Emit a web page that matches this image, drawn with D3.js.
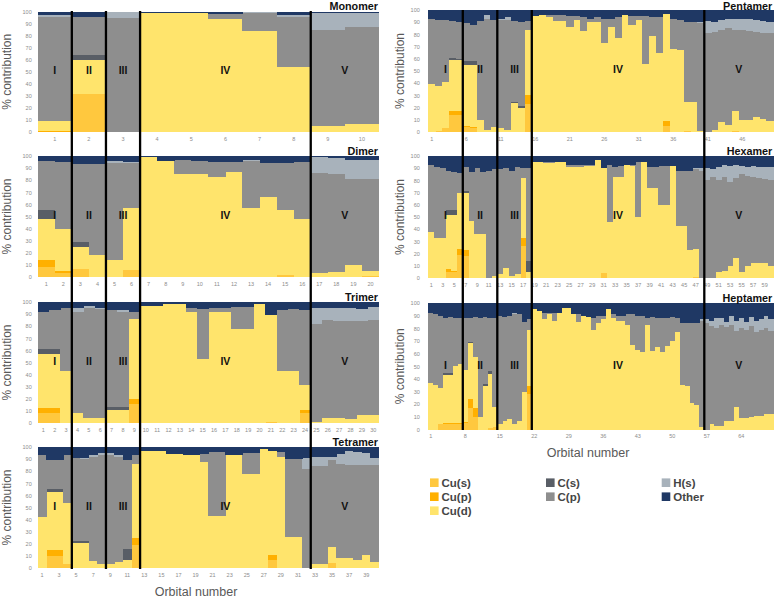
<!DOCTYPE html>
<html>
<head>
<meta charset="utf-8">
<script src="https://cdn.jsdelivr.net/npm/d3@7"></script>
<style>
  body { margin: 0; background: #fff; }
  svg { display: block; font-family: "Open Sans", "Liberation Sans", sans-serif; }
  .tick text { fill: #8c8c8c; font-size: 5.5px; }
</style>
</head>
<body>
<svg id="chart" width="774" height="599"></svg>
<script>
// components, bottom to top of each stack
var components = ["Cu(s)", "Cu(p)", "Cu(d)", "C(s)", "C(p)", "H(s)", "Other"];
var colors = ["#ffc83e", "#ffb000", "#ffe46c", "#595e66", "#8e8e8e", "#a8b2bb", "#1f3864"];
var regionNames = ["I", "II", "III", "IV", "V"];

// % contribution per orbital: [Cu(s), Cu(p), Cu(d), C(s), C(p), H(s), Other]
var monomer = [
  [0,1,8,0,87,1,3],[32,0,28,4,32,0,4],[0,0,0,0,95,5,0],[0,0,99,0,0,0,1],[0,0,99,0,0,0,1],
  [0,0,94,0,4,0,2],[0,0,84,0,15,1,0],[0,0,54,0,42,1,3],[0,0,5,0,80,14,1],[0,0,7,0,80,12,1]
];
var dimer = [
  [8,6,34,7,41,0,4],[3,2,35,0,55,0,5],[7,0,18,4,64,0,7],[0,0,18,0,75,0,7],[0,0,14,0,80,2,4],
  [6,0,51,0,37,1,5],[0,0,99,0,0,0,1],[0,0,96,0,0,0,4],[0,0,85,0,12,0,3],[0,0,85,0,11,0,4],
  [0,0,83,0,12,0,5],[0,0,87,0,8,0,5],[0,0,57,0,39,1,3],[0,0,66,0,28,0,6],[2,0,53,0,39,0,6],
  [0,0,48,0,47,0,5],[0,0,3,0,83,13,1],[0,0,4,0,81,13,2],[0,0,10,0,71,16,3],[1,0,4,0,76,16,3]
];
var trimer = [
  [8,4,45,4,31,0,8],[8,4,45,4,32,0,7],[0,0,43,0,52,0,5],[0,0,8,0,84,3,5],[0,0,4,0,91,2,3],
  [0,0,4,0,90,1,5],[0,0,11,2,80,0,7],[0,0,11,2,79,1,7],[16,4,66,0,6,0,8],[0,0,97,0,0,0,3],
  [0,0,97,0,0,0,3],[0,0,98,0,0,0,2],[0,0,98,0,0,0,2],[0,0,92,0,3,0,5],[0,0,53,0,41,0,6],
  [0,0,92,0,3,0,5],[0,0,92,0,3,0,5],[0,0,78,0,18,0,4],[0,0,78,0,18,0,4],[0,0,98,0,0,0,2],
  [1,0,88,0,0,0,11],[0,0,43,0,50,0,7],[0,0,43,0,51,0,6],[8,3,20,0,62,0,7],[0,0,1,0,81,13,5],
  [0,0,4,0,81,10,5],[0,0,4,0,80,11,5],[0,0,3,0,81,11,5],[0,0,7,0,77,10,6],[0,0,7,0,78,11,4]
];
var tetramer = [
  [0,0,42,0,51,0,7],[10,5,48,2,24,0,11],[10,5,48,2,24,0,11],[3,0,51,0,39,0,7],[0,0,21,1,69,0,9],
  [0,0,21,1,68,1,9],[0,0,6,0,86,1,7],[0,0,3,0,90,2,5],[0,0,3,0,90,2,5],[0,0,5,0,87,1,7],
  [0,0,7,9,73,0,11],[19,6,61,0,7,0,7],[0,0,97,0,0,0,3],[0,0,97,0,0,0,3],[0,0,97,0,0,0,3],
  [0,0,94,0,0,0,6],[0,0,94,0,0,0,6],[0,0,93,0,0,0,7],[0,0,93,0,0,0,7],[0,0,88,0,6,0,6],
  [0,0,43,0,53,0,4],[0,0,43,0,53,0,4],[0,0,93,0,0,0,7],[0,0,93,0,0,0,7],[0,0,78,0,17,0,5],
  [0,0,78,0,17,0,5],[0,0,98,0,0,0,2],[7,4,86,0,0,0,3],[0,0,92,0,4,0,4],[0,0,26,0,64,0,10],
  [0,0,26,0,64,0,10],[0,0,0,0,82,9,9],[0,0,3,0,81,8,8],[0,0,3,0,81,8,8],[4,0,13,0,72,3,8],
  [0,0,8,0,78,8,6],[0,0,8,0,77,12,3],[0,0,7,0,78,11,4],[0,0,11,0,74,10,5],[0,0,5,0,80,6,9]
];
var pentamer = [
  [0,0,39,0,54,0,7],[1,0,37,0,54,0,8],[3,0,38,0,51,0,8],[14,3,42,2,30,0,9],[14,3,42,1,30,0,10],
  [4,1,50,3,31,0,11],[3,1,51,3,30,0,12],[0,0,10,0,81,0,9],[0,0,2,0,91,3,4],[0,0,4,0,88,0,8],
  [0,0,3,0,89,1,7],[0,0,2,0,90,2,6],[0,0,24,1,66,0,9],[0,0,20,1,69,0,10],[23,7,54,0,7,0,9],
  [0,0,95,0,0,0,5],[0,0,96,0,0,0,4],[0,0,94,0,2,0,4],[0,0,91,0,5,0,4],[0,0,91,0,5,0,4],
  [0,0,86,0,9,0,5],[0,0,92,0,3,0,5],[0,0,83,0,11,0,6],[0,0,90,0,3,0,7],[0,0,90,0,4,0,6],
  [0,0,73,0,20,0,7],[0,0,86,0,7,0,7],[0,0,77,0,17,0,6],[0,0,96,0,0,0,4],[0,0,88,0,7,0,5],
  [0,0,92,0,3,0,5],[0,0,56,0,39,0,5],[0,0,79,0,15,0,6],[0,0,65,0,29,0,6],[5,4,88,0,0,0,3],
  [0,0,68,0,25,0,7],[0,0,67,0,25,0,8],[1,0,24,0,65,0,10],[0,0,25,0,65,0,10],[0,0,1,0,88,1,10],
  [0,0,0,0,81,10,9],[0,0,2,0,80,8,10],[0,0,8,0,76,8,8],[0,0,6,0,79,8,7],[1,0,16,0,67,9,7],
  [0,0,10,0,74,9,7],[0,0,10,0,73,10,7],[0,0,12,0,70,10,8],[0,0,11,0,70,10,9],[0,0,9,0,72,9,10]
];
var hexamer = [
  [0,0,38,0,55,0,7],[0,0,33,0,58,0,9],[0,0,33,0,57,0,10],[5,2,45,4,32,0,12],[5,1,46,4,31,0,13],
  [19,5,46,0,16,0,14],[18,5,47,1,20,0,9],[0,0,47,0,40,0,13],[0,0,36,0,54,0,10],[0,0,36,0,51,0,13],
  [0,0,0,0,88,0,12],[0,0,2,0,87,0,11],[0,0,3,0,86,0,11],[0,0,8,0,82,0,10],[0,0,2,0,86,0,12],
  [0,0,3,0,88,0,9],[26,7,49,0,8,0,10],[0,0,5,9,76,0,10],[0,0,95,0,0,0,5],[0,0,95,0,0,0,5],
  [0,0,94,0,1,0,5],[0,0,94,0,1,0,5],[0,0,95,0,0,0,5],[0,0,95,0,0,0,5],[0,0,91,0,2,0,7],
  [0,0,91,0,2,0,7],[0,0,91,0,2,0,7],[0,0,92,0,1,0,7],[0,0,92,0,1,0,7],[0,0,97,0,0,0,3],
  [4,0,86,0,0,0,10],[0,0,46,0,47,0,7],[0,0,83,0,8,0,9],[0,0,83,0,9,0,8],[0,0,93,0,0,0,7],
  [0,0,92,0,1,0,7],[0,0,50,0,45,0,5],[0,0,95,0,0,0,5],[0,0,74,0,17,0,9],[0,0,74,0,17,0,9],
  [0,0,60,0,32,0,8],[0,0,60,0,32,0,8],[0,0,92,0,0,0,8],[0,0,43,0,45,0,12],[0,0,43,0,45,0,12],
  [0,0,23,0,65,0,12],[1,0,23,0,65,1,10],[0,0,0,0,88,2,10],[0,0,0,0,80,10,10],[0,0,0,0,83,6,11],
  [0,0,5,0,75,11,9],[0,0,6,0,77,10,7],[0,0,10,0,69,13,8],[0,0,16,0,66,11,7],[0,0,5,0,80,7,8],
  [0,0,10,0,74,7,9],[0,0,12,0,71,9,8],[0,0,12,0,70,9,9],[0,0,12,0,69,10,9],[0,0,10,0,70,11,9]
];
var heptamer = [
  [0,0,37,0,55,0,8],[0,0,35,0,56,0,9],[4,0,29,0,57,0,10],[4,1,38,2,43,0,12],[4,1,38,2,44,0,11],
  [4,1,45,0,38,0,12],[4,1,47,0,36,0,12],[5,1,41,0,41,0,12],[17,7,44,1,19,0,12],[10,7,40,0,32,0,11],
  [0,0,10,0,78,0,12],[0,0,34,2,53,0,11],[1,0,43,2,42,0,12],[2,0,16,0,70,0,12],[0,0,4,0,86,0,10],
  [0,0,7,0,82,0,11],[0,0,8,0,82,0,10],[0,0,4,0,87,1,8],[0,0,7,0,84,0,9],[0,0,30,0,55,0,15],
  [28,6,45,0,8,0,13],[0,0,95,0,0,0,5],[0,0,94,0,0,0,6],[0,0,87,0,5,0,8],[0,0,91,0,1,0,8],
  [0,0,86,0,6,0,8],[0,0,92,0,0,0,8],[0,0,96,0,0,0,4],[0,0,96,0,0,0,4],[0,0,91,0,0,0,9],
  [0,0,85,0,6,0,9],[0,0,90,0,0,0,10],[0,0,89,0,0,0,11],[0,0,79,0,9,0,12],[0,0,84,0,6,0,10],
  [0,0,87,0,3,0,10],[0,0,95,0,0,0,5],[0,0,88,0,3,0,9],[0,0,86,0,4,0,10],[0,0,86,0,4,0,10],
  [0,0,83,0,8,0,9],[0,0,67,0,24,0,9],[0,0,63,0,27,0,10],[0,0,61,0,29,0,10],[0,0,83,0,5,0,12],
  [0,0,62,0,27,0,11],[0,0,65,0,23,0,12],[0,0,61,0,27,0,12],[0,0,66,0,22,0,12],[0,0,70,0,19,0,11],
  [0,0,77,0,11,0,12],[0,0,35,0,49,0,16],[0,0,34,0,50,0,16],[0,0,21,0,63,0,16],[0,0,19,0,65,0,16],
  [0,0,2,0,84,1,13],[0,0,0,0,84,3,13],[0,0,4,0,78,4,14],[0,0,3,0,77,8,12],[0,0,3,0,80,5,12],
  [0,0,7,0,74,4,15],[0,0,7,0,76,7,10],[0,0,18,0,60,8,14],[0,0,9,0,71,8,12],[0,0,9,0,70,6,15],
  [0,0,10,0,72,7,11],[0,0,11,0,66,9,14],[0,0,11,0,68,8,13],[0,0,12,0,68,10,10],[0,0,12,0,66,9,13]
];

// last orbital of regions I..V
var monomerRegions = [1, 2, 3, 8, 10];
var dimerRegions = [2, 4, 6, 16, 20];
var trimerRegions = [3, 6, 9, 24, 30];
var tetramerRegions = [4, 8, 12, 32, 40];
var pentamerRegions = [5, 10, 15, 40, 50];
var hexamerRegions = [6, 12, 18, 48, 60];
var heptamerRegions = [7, 14, 21, 56, 70];

var yTicks = [0, 10, 20, 30, 40, 50, 60, 70, 80, 90, 100];

// layout
var columns = [
  { x0: 37.7, x1: 379, tickPad: 6, titleX: 11, lineTop: 11, lineBottom: 569, xTitleX: 196, xTitleY: 595.5 },
  { x0: 428.3, x1: 773.3, tickPad: 8.5, titleX: 404, lineTop: 10, lineBottom: 430, xTitleX: 588, xTitleY: 457 }
];
var panels = [
  { name: "Monomer", rows: monomer, regions: monomerRegions, col: 0, top: 11.7, bottom: 132, step: 1 },
  { name: "Dimer", rows: dimer, regions: dimerRegions, col: 0, top: 156, bottom: 277, step: 1 },
  { name: "Trimer", rows: trimer, regions: trimerRegions, col: 0, top: 302, bottom: 423, step: 1 },
  { name: "Tetramer", rows: tetramer, regions: tetramerRegions, col: 0, top: 447, bottom: 568, step: 2 },
  { name: "Pentamer", rows: pentamer, regions: pentamerRegions, col: 1, top: 10, bottom: 132, step: 5 },
  { name: "Hexamer", rows: hexamer, regions: hexamerRegions, col: 1, top: 156, bottom: 278, step: 2 },
  { name: "Heptamer", rows: heptamer, regions: heptamerRegions, col: 1, top: 303, bottom: 429.5, step: 7 }
];

var svg = d3.select("#chart");
var stack = d3.stack()
  .keys(d3.range(components.length))
  .value(function(d, k) { return d[k]; });

var lineScales = [null, null];

panels.forEach(function(p) {
  var c = columns[p.col];
  var labels = p.rows.map(function(d, i) { return String(i + 1); });
  var x = d3.scaleBand().domain(labels).range([c.x0, c.x1]).padding(0);
  var y = d3.scaleLinear().domain([0, 100]).range([p.bottom, p.top]);
  if (!lineScales[p.col]) lineScales[p.col] = { x: x, regions: p.regions };

  var g = svg.append("g");
  var series = stack(p.rows);

  g.selectAll("g.layer")
    .data(series)
    .enter()
    .append("g")
    .attr("fill", function(s) { return colors[s.key]; })
    .selectAll("rect")
    .data(function(s) { return s; })
    .enter()
    .append("rect")
    .attr("x", function(d, i) { return x(labels[i]); })
    .attr("width", x.bandwidth() + 0.3)
    .attr("y", function(d) { return y(Math.min(d[1], 100)); })
    .attr("height", function(d) { return Math.max(0, y(d[0]) - y(Math.min(d[1], 100))); })
    .attr("shape-rendering", "crispEdges");

  // axes
  var leftAxis = d3.axisLeft(y).tickValues(yTicks).tickSize(0).tickPadding(c.tickPad);
  g.append("g")
    .attr("transform", "translate(" + c.x0 + ",0)")
    .call(leftAxis)
    .call(function(a) { a.select(".domain").remove(); });

  var bottomAxis = d3.axisBottom(x)
    .tickValues(labels.filter(function(d, i) { return i % p.step === 0; }))
    .tickSize(0).tickPadding(5);
  g.append("g")
    .attr("transform", "translate(0," + p.bottom + ")")
    .call(bottomAxis)
    .call(function(a) { a.select(".domain").remove(); });

  // title
  g.append("text")
    .attr("x", c.x1 - 1)
    .attr("y", Math.max(p.top - 1.5, 9.8))
    .attr("text-anchor", "end")
    .attr("font-family", "Liberation Sans, Arial, sans-serif")
    .attr("font-weight", "bold")
    .attr("font-size", "10.8px")
    .attr("fill", "#111")
    .text(p.name);

  // region labels
  var starts = [0].concat(p.regions.slice(0, -1));
  regionNames.forEach(function(r, i) {
    var xa = x(labels[starts[i]]);
    var xb = x(labels[p.regions[i] - 1]) + x.bandwidth();
    g.append("text")
      .attr("x", (xa + xb) / 2)
      .attr("y", y(51))
      .attr("dy", "0.35em")
      .attr("text-anchor", "middle")
      .attr("font-family", "Liberation Sans, Arial, sans-serif")
      .attr("font-weight", "bold")
      .attr("font-size", "10.5px")
      .attr("fill", "#111")
      .text(r);
  });

  // y title
  g.append("text")
    .attr("transform", "translate(" + c.titleX + "," + ((p.top + p.bottom) / 2) + ") rotate(-90)")
    .attr("text-anchor", "middle")
    .attr("font-family", "Liberation Sans, Arial, sans-serif")
    .attr("font-size", "12px")
    .attr("fill", "#595959")
    .text("% contribution");
});

// region separators through each column
columns.forEach(function(c, ci) {
  var s = lineScales[ci];
  var bounds = s.regions.slice(0, -1);
  svg.append("g")
    .selectAll("line")
    .data(bounds)
    .enter()
    .append("line")
    .attr("x1", function(b) { return s.x(String(b)) + s.x.bandwidth(); })
    .attr("x2", function(b) { return s.x(String(b)) + s.x.bandwidth(); })
    .attr("y1", c.lineTop)
    .attr("y2", c.lineBottom)
    .attr("stroke", "#000")
    .attr("stroke-width", 2.3);

  svg.append("text")
    .attr("x", c.xTitleX)
    .attr("y", c.xTitleY)
    .attr("text-anchor", "middle")
    .attr("font-family", "Liberation Sans, Arial, sans-serif")
    .attr("font-size", "12.5px")
    .attr("fill", "#595959")
    .text("Orbital number");
});

// legend
var legendCols = [430, 546, 661.7];
var legendRows = [482.7, 496.7, 510.7];
var legendSlots = [[0, 0], [0, 1], [0, 2], [1, 0], [1, 1], [2, 0], [2, 1]];
var legend = svg.append("g");
components.forEach(function(name, i) {
  var lx = legendCols[legendSlots[i][0]];
  var ly = legendRows[legendSlots[i][1]];
  legend.append("rect")
    .attr("x", lx)
    .attr("y", ly - 4.3)
    .attr("width", 8.6)
    .attr("height", 8.6)
    .attr("fill", colors[i]);
  legend.append("text")
    .attr("x", lx + 11.5)
    .attr("y", ly)
    .attr("dy", "0.36em")
    .attr("font-family", "Liberation Sans, Arial, sans-serif")
    .attr("font-size", "11.5px")
    .attr("font-weight", "bold")
    .attr("fill", "#454545")
    .text(name);
});
</script>
</body>
</html>
